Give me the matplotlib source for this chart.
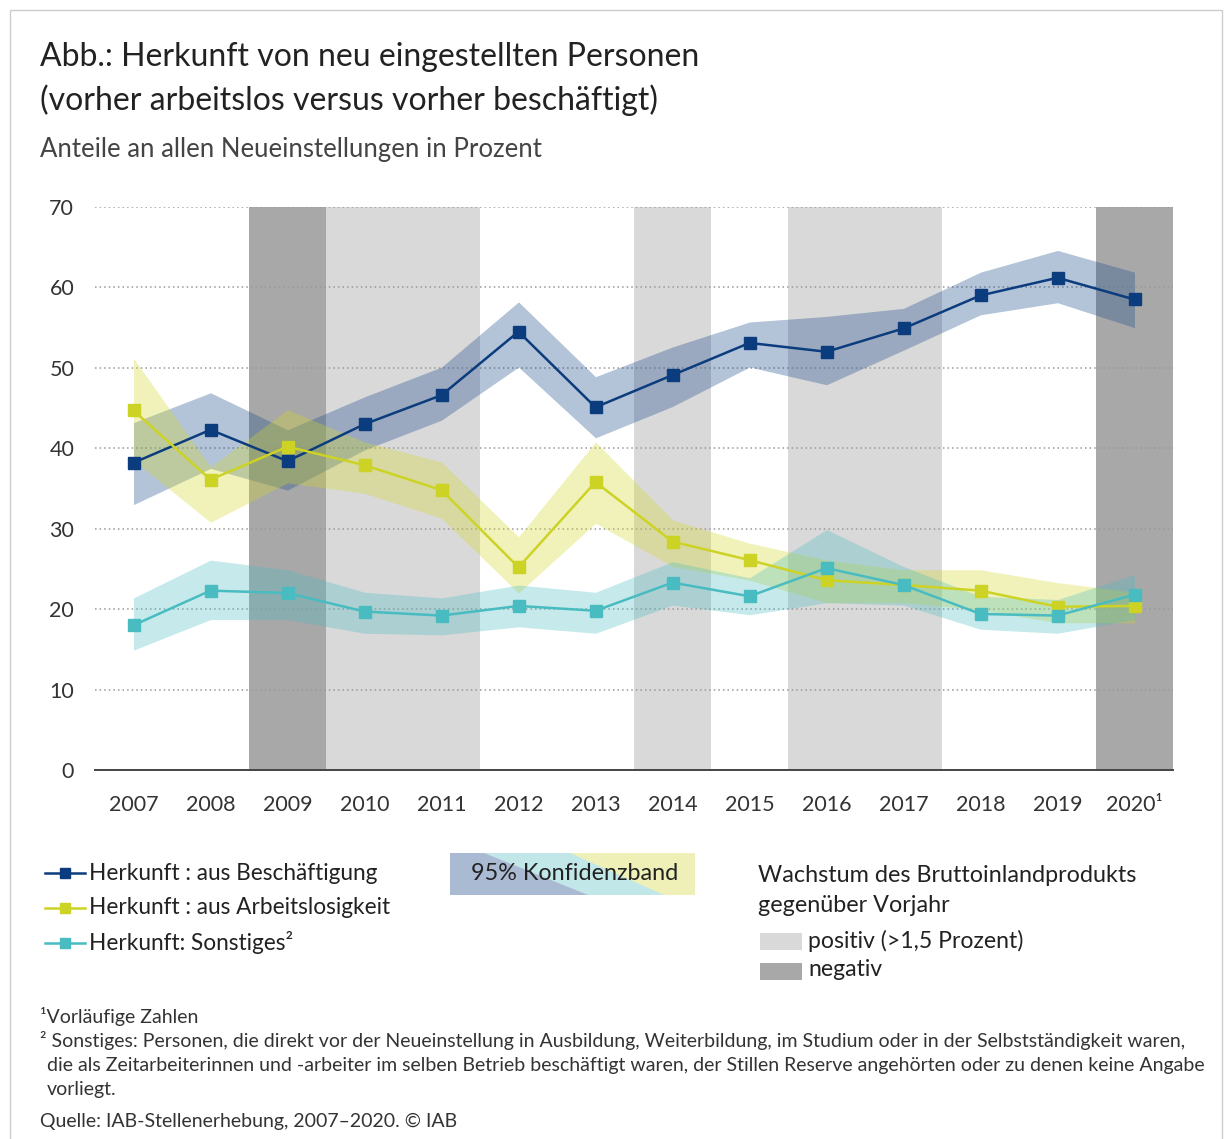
import matplotlib.pyplot as plt
from matplotlib.patches import Rectangle, Polygon
from matplotlib.lines import Line2D

plt.rcParams['font.family'] = ['Lato', 'DejaVu Sans']

# Daten
jahre = list(range(2007, 2021))
jahr_labels = [str(j) for j in jahre[:-1]] + ['2020\u00b9']

beschaeftigung = [38.2, 42.3, 38.4, 43.0, 46.6, 54.5, 45.1, 49.1, 53.1, 52.0, 54.9, 59.0, 61.2, 58.5]
besch_oben = [43.2, 46.9, 42.3, 46.4, 50.1, 58.2, 48.9, 52.6, 55.7, 56.4, 57.4, 61.9, 64.6, 61.9]
besch_unten = [33.0, 37.5, 34.8, 39.8, 43.5, 50.1, 41.3, 45.2, 50.1, 47.9, 52.2, 56.6, 58.1, 55.0]

arbeitslos = [44.7, 36.1, 40.2, 37.9, 34.8, 25.2, 35.8, 28.4, 26.1, 23.6, 23.0, 22.3, 20.3, 20.4]
arbeitslos_oben = [51.2, 37.7, 44.8, 40.8, 38.3, 29.0, 40.8, 31.1, 28.2, 26.1, 24.9, 24.9, 23.3, 22.1]
arbeitslos_unten = [38.5, 30.8, 35.7, 34.4, 31.3, 22.0, 30.7, 25.3, 23.6, 20.8, 20.8, 19.9, 18.3, 18.3]

sonstiges = [18.0, 22.3, 22.0, 19.7, 19.2, 20.4, 19.8, 23.3, 21.6, 25.1, 23.0, 19.4, 19.2, 21.8]
sonst_oben = [21.4, 26.1, 24.9, 22.1, 21.4, 23.0, 22.1, 25.9, 23.9, 29.9, 25.3, 21.6, 21.2, 24.3]
sonst_unten = [14.9, 18.7, 18.7, 17.0, 16.8, 17.8, 17.0, 20.5, 19.3, 20.8, 20.5, 17.5, 17.0, 18.7]

# BIP-Wachstum: Jahre mit positivem (>1,5 %) bzw. negativem Wachstum
bip_positiv = [2010, 2011, 2014, 2016, 2017]
bip_negativ = [2009, 2020]

blau = '#0b3c7d'
gelb = '#cdd325'
tuerkis = '#48bcc0'
hellgrau = '#d9d9d9'
dunkelgrau = '#a8a8a8'

W, H = 1224, 1139
fig = plt.figure(figsize=(W / 100, H / 100), dpi=100)


def fx(px):
    return px / W


def fy(py):
    return 1 - py / H


ax = fig.add_axes([fx(95), fy(770), fx(1173) - fx(95), fy(207) - fy(770)])

for j in bip_positiv:
    ax.axvspan(j - 0.5, j + 0.5, color=hellgrau, lw=0, zorder=0)
for j in bip_negativ:
    ax.axvspan(j - 0.5, j + 0.5, color=dunkelgrau, lw=0, zorder=0)

ax.fill_between(jahre, besch_unten, besch_oben, color='#1a4a8a', alpha=0.33, lw=0, zorder=2)
ax.fill_between(jahre, arbeitslos_unten, arbeitslos_oben, color='#d4d92a', alpha=0.32, lw=0, zorder=2)
ax.fill_between(jahre, sonst_unten, sonst_oben, color='#45bcc0', alpha=0.3, lw=0, zorder=2)

ax.plot(jahre, beschaeftigung, color=blau, lw=1.8, marker='s', ms=8, zorder=4)
ax.plot(jahre, arbeitslos, color=gelb, lw=1.8, marker='s', ms=8, zorder=4)
ax.plot(jahre, sonstiges, color=tuerkis, lw=1.8, marker='s', ms=8, zorder=4)

ax.set_xlim(2006.5, 2020.5)
ax.set_ylim(0, 70)
ax.set_yticks(range(0, 71, 10))
ax.set_xticks(jahre)
ax.set_xticklabels(jahr_labels)
for y in range(10, 71, 10):
    ax.axhline(y, color='#999999', lw=1.1, ls=(0, (1, 2)), zorder=1)
for s in ['top', 'right', 'left']:
    ax.spines[s].set_visible(False)
ax.spines['bottom'].set_color('#444444')
ax.spines['bottom'].set_linewidth(1.4)
ax.spines['bottom'].set_zorder(5)
ax.tick_params(axis='both', length=0, labelsize=15.5, colors='#333333')
ax.tick_params(axis='y', pad=15)
ax.tick_params(axis='x', pad=18)

# Titel
fig.text(fx(40), fy(57), 'Abb.: Herkunft von neu eingestellten Personen', fontsize=23,
         color='#222222', va='center')
fig.text(fx(40), fy(100), '(vorher arbeitslos versus vorher beschäftigt)', fontsize=23,
         color='#222222', va='center')
fig.text(fx(40), fy(150), 'Anteile an allen Neueinstellungen in Prozent', fontsize=18.5,
         color='#444444', va='center')

# Legende Linien
for py, farbe, txt in [(873, blau, 'Herkunft : aus Beschäftigung'),
                       (908, gelb, 'Herkunft : aus Arbeitslosigkeit'),
                       (943, tuerkis, 'Herkunft: Sonstiges\u00b2')]:
    fig.add_artist(Line2D([fx(45), fx(85)], [fy(py), fy(py)], color=farbe, lw=1.8))
    fig.add_artist(Line2D([fx(65)], [fy(py)], color=farbe, marker='s', ms=7, lw=0))
    fig.text(fx(89), fy(py), txt, fontsize=16.3, color='#222222', va='center')

# Konfidenzband-Box
x0, x1, y0, y1 = fx(450), fx(695), fy(895), fy(853)
fig.add_artist(Polygon([(x0, y0), (x0, y1), (x1, y1), (x1, y0)], closed=True,
                       facecolor='#eef0b8', lw=0))
fig.add_artist(Polygon([(x0, y0), (x0, y1), (fx(570), y1), (fx(664), y0)], closed=True,
                       facecolor='#c1e7e9', lw=0))
fig.add_artist(Polygon([(x0, y0), (x0, y1), (fx(484), y1), (fx(588), y0)], closed=True,
                       facecolor='#abbad3', lw=0))
fig.text(fx(575), fy(874), '95% Konfidenzband', fontsize=16.8, color='#222222',
         va='center', ha='center')

# Legende BIP
fig.text(fx(758), fy(875), 'Wachstum des Bruttoinlandprodukts', fontsize=16.8,
         color='#222222', va='center')
fig.text(fx(758), fy(906), 'gegenüber Vorjahr', fontsize=16.8, color='#222222', va='center')
fig.add_artist(Rectangle((fx(760), fy(950)), fx(42), 17 / H, facecolor=hellgrau, lw=0))
fig.text(fx(808), fy(941), 'positiv (>1,5 Prozent)', fontsize=16.6, color='#222222', va='center')
fig.add_artist(Rectangle((fx(760), fy(980)), fx(42), 17 / H, facecolor=dunkelgrau, lw=0))
fig.text(fx(808), fy(970), 'negativ', fontsize=16.6, color='#222222', va='center')

# Fußnoten
fn = dict(fontsize=14.0, color='#333333', va='center')
fig.text(fx(40), fy(1016), '\u00b9Vorläufige Zahlen', **fn)
fig.text(fx(40), fy(1041), '\u00b2 Sonstiges: Personen, die direkt vor der Neueinstellung in Ausbildung, '
         'Weiterbildung, im Studium oder in der Selbstständigkeit waren,', **fn)
fig.text(fx(47), fy(1066), 'die als Zeitarbeiterinnen und -arbeiter im selben Betrieb beschäftigt waren, '
         'der Stillen Reserve angehörten oder zu denen keine Angabe', **fn)
fig.text(fx(47), fy(1090), 'vorliegt.', **fn)
fig.text(fx(40), fy(1121), 'Quelle: IAB-Stellenerhebung, 2007\u20132020. \u00a9 IAB', **fn)

# Rahmen
fig.add_artist(Rectangle((fx(10), fy(1145)), fx(1212), 1135 / H, facecolor='none',
                         edgecolor='#cccccc', lw=1))

fig.savefig('out.png', dpi=100)
